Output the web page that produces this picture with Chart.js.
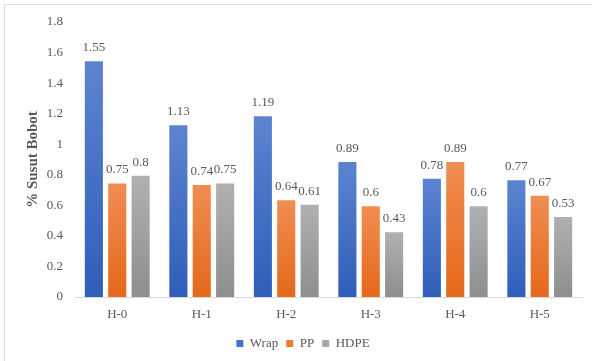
<!DOCTYPE html>
<html>
<head>
<meta charset="utf-8">
<script src="https://cdn.jsdelivr.net/npm/chart.js@4.4.0/dist/chart.umd.min.js"></script>
<style>
  body { margin: 0; background: #fff; }
  #wrap { width: 592px; height: 361px; }
</style>
</head>
<body>
<div id="wrap"><canvas id="grafico" width="592" height="361"></canvas></div>
<script>
// dados do gráfico
const kategori = ["H-0", "H-1", "H-2", "H-3", "H-4", "H-5"];
const seriWrap = [1.55, 1.13, 1.19, 0.89, 0.78, 0.77];
const seriPP = [0.75, 0.74, 0.64, 0.6, 0.89, 0.67];
const seriHDPE = [0.8, 0.75, 0.61, 0.43, 0.6, 0.53];
const yMin = 0, yMax = 1.8, yStep = 0.2;

const fonte = "'Liberation Serif', 'Times New Roman', serif";
const cinza = "#595959";

// gradiente vertical por barra (como no Excel)
function gradiente(topo, base, solido) {
    return (context) => {
        const chart = context.chart;
        if (!chart.chartArea || context.type !== "data") return solido;
        const y = chart.scales.y;
        const v = context.raw;
        const t = y.getPixelForValue(v);
        const b = y.getPixelForValue(0);
        if (!isFinite(t) || !isFinite(b) || t === b) return solido;
        const g = chart.ctx.createLinearGradient(0, t, 0, b);
        g.addColorStop(0, topo);
        g.addColorStop(1, base);
        return g;
    };
}

// moldura em volta do gráfico
const moldura = {
    id: "moldura",
    beforeDraw(chart) {
        const c = chart.ctx;
        c.save();
        c.strokeStyle = "#d9dfea";
        c.lineWidth = 1;
        c.strokeRect(4.5, 4.5, 620, 400);
        c.restore();
    }
};

// rótulos de valor acima das barras
const rotulos = {
    id: "rotulos",
    afterDatasetsDraw(chart) {
        const c = chart.ctx;
        c.save();
        c.font = "13px " + fonte;
        c.fillStyle = cinza;
        c.textAlign = "center";
        c.textBaseline = "alphabetic";
        chart.data.datasets.forEach((ds, i) => {
            chart.getDatasetMeta(i).data.forEach((bar, j) => {
                c.fillText(String(ds.data[j]), bar.x, bar.y - 9);
            });
        });
        c.restore();
    }
};

const coresLegenda = ["#4472c4", "#ed7d31", "#a5a5a5"];

new Chart(document.getElementById("grafico").getContext("2d"), {
    type: "bar",
    data: {
        labels: kategori,
        datasets: [
            {
                label: "Wrap",
                data: seriWrap,
                backgroundColor: gradiente("#5c84d0", "#2f5eb9", "#4472c4"),
                borderColor: "#ffffff",
                borderWidth: 1
            },
            {
                label: "PP",
                data: seriPP,
                backgroundColor: gradiente("#f08e52", "#e5681b", "#ed7d31"),
                borderColor: "#ffffff",
                borderWidth: 1
            },
            {
                label: "HDPE",
                data: seriHDPE,
                backgroundColor: gradiente("#b1b1b1", "#8e8e8e", "#a5a5a5"),
                borderColor: "#ffffff",
                borderWidth: 1
            }
        ]
    },
    options: {
        responsive: false,
        animation: false,
        categoryPercentage: 0.83,
        barPercentage: 0.86,
        layout: {
            padding: { left: 24, right: 10, top: 22, bottom: 1 }
        },
        plugins: {
            legend: {
                position: "bottom",
                labels: {
                    boxWidth: 7,
                    boxHeight: 7,
                    padding: 8,
                    color: cinza,
                    font: { family: fonte, size: 13 },
                    generateLabels(chart) {
                        return chart.data.datasets.map((ds, i) => ({
                            text: ds.label,
                            fillStyle: coresLegenda[i],
                            strokeStyle: coresLegenda[i],
                            lineWidth: 0,
                            fontColor: cinza,
                            datasetIndex: i
                        }));
                    }
                }
            },
            tooltip: { enabled: false }
        },
        scales: {
            x: {
                grid: { display: false, drawTicks: false },
                border: { display: true, color: "#d9d9d9" },
                ticks: {
                    color: cinza,
                    padding: 10,
                    font: { family: fonte, size: 13 }
                },
                afterFit(scale) { scale.height = 32; }
            },
            y: {
                min: yMin,
                max: yMax,
                grid: { display: false, drawTicks: false },
                border: { display: false },
                ticks: {
                    stepSize: yStep,
                    color: cinza,
                    padding: 12,
                    font: { family: fonte, size: 13 },
                    callback: (v) => String(Math.round(v * 10) / 10)
                },
                title: {
                    display: true,
                    text: "% Susut Bobot",
                    color: cinza,
                    padding: 0,
                    font: { family: fonte, size: 15, weight: "bold" }
                },
                afterFit(scale) { scale.width = 51; }
            }
        }
    },
    plugins: [moldura, rotulos]
});
</script>
</body>
</html>
